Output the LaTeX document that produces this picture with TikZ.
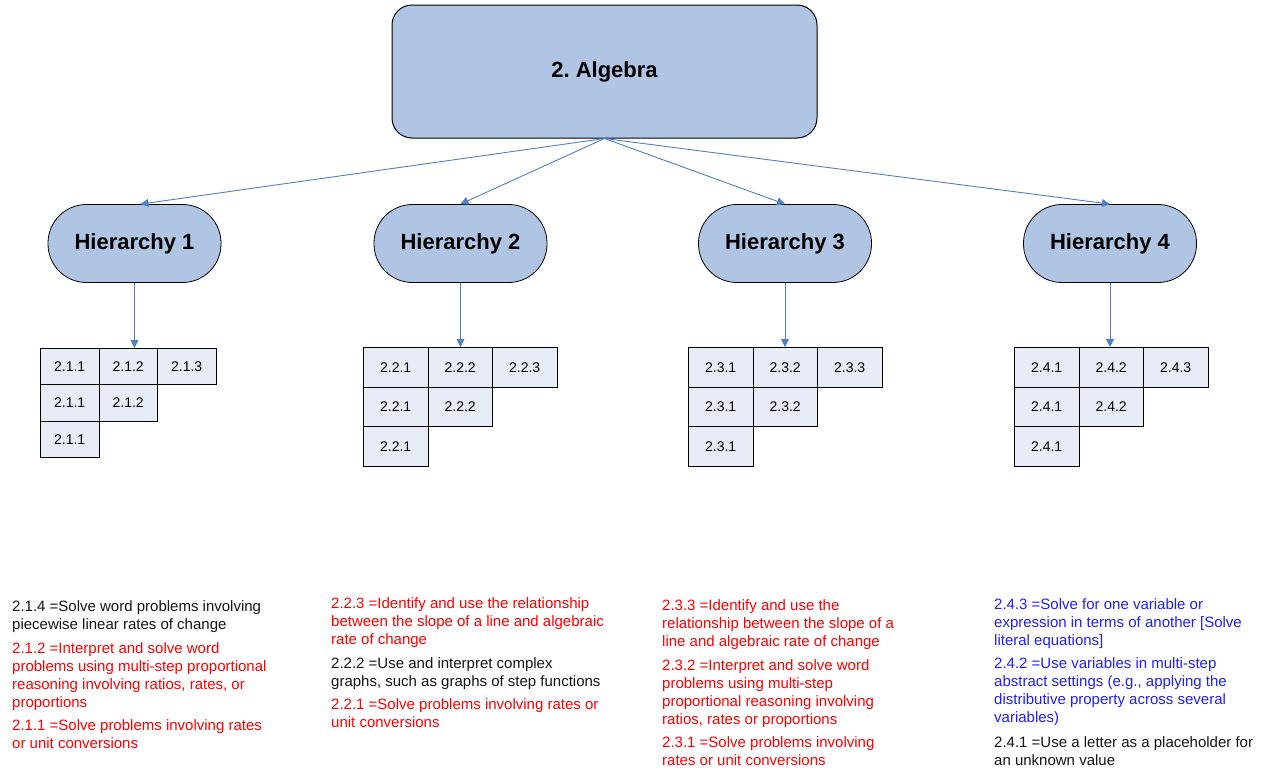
\documentclass[tikz,border=0pt]{standalone}
\usepackage{fontspec}
\setmainfont{Liberation Sans}
\frenchspacing
\usetikzlibrary{arrows.meta}
\definecolor{boxfill}{RGB}{176,196,228}
\definecolor{cellfill}{RGB}{232,236,246}
\definecolor{conncol}{RGB}{79,127,196}
\definecolor{txtred}{RGB}{255,0,0}
\definecolor{txtblue}{RGB}{30,30,255}
\definecolor{txtblack}{RGB}{20,20,20}
\tikzset{
  topbox/.style={draw=black, line width=1pt, fill=boxfill, rounded corners=20pt,
    minimum width=425pt, minimum height=133pt, inner sep=0pt,
    font=\fontsize{22}{26}\selectfont\bfseries},
  hbox/.style={draw=black, line width=0.8pt, fill=boxfill, rounded corners=38.5pt,
    minimum width=173pt, minimum height=78pt, inner sep=0pt,
    font=\fontsize{22}{26}\selectfont\bfseries},
  cell/.style={draw=black, line width=0.8pt, fill=cellfill, inner sep=0pt,
    font=\fontsize{14}{16}\selectfont, anchor=north west},
  conn/.style={draw=conncol, line width=0.9pt, -{Triangle[length=8pt,width=8pt]}},
  para/.style={anchor=north west, inner sep=0pt, align=left,
    font=\fontsize{15}{18}\selectfont}
}
\begin{document}
\begin{tikzpicture}[x=1pt,y=-1pt]
\useasboundingbox (0,0) rectangle (1265,771);
% top
\node[topbox] (top) at (604.5,71.5) {2. Algebra};
% hierarchies
\node[hbox] (h1) at (134.5,243.5) {Hierarchy 1};
\node[hbox] (h2) at (460.5,243.5) {Hierarchy 2};
\node[hbox] (h3) at (785,243.5) {Hierarchy 3};
\node[hbox] (h4) at (1110,243.5) {Hierarchy 4};
% grids
\foreach \g/\x/\y/\w/\h in {1/40/348/58.5/36.3, 2/363/347/64.5/39.7, 3/688/347/64.5/39.7, 4/1014/347/64.5/39.7}{
  \foreach \r/\c in {1/1,1/2,1/3,2/1,2/2,3/1}{
    \node[cell, minimum width=\w pt, minimum height=\h pt] (g\g r\r c\c)
      at ({\x+(\c-1)*\w},{\y+(\r-1)*\h}) {2.\g.\c};
  }
}
% connectors
\draw[conn] (top.south) -- ([xshift=6pt]h1.north);
\draw[conn] (top.south) -- (h2.north);
\draw[conn] (top.south) -- (h3.north);
\draw[conn] (top.south) -- (h4.north);
\foreach \i in {1,2,3,4}{
  \draw[conn] (h\i.south) -- (h\i.south |- g\i r1c2.north);
}
% text block 1
\node[para, text=txtblack] (t1a) at (12,599) {\strut 2.1.4 =Solve word problems involving\\piecewise linear rates of change};
\node[para, text=txtred] (t1b) at (12,641) {\strut 2.1.2 =Interpret and solve word\\problems using multi-step proportional\\reasoning involving ratios, rates, or\\proportions};
\node[para, text=txtred] (t1c) at (12,718) {\strut 2.1.1 =Solve problems involving rates\\or unit conversions};
% text block 2
\node[para, text=txtred] (t2a) at (331,596) {\strut 2.2.3 =Identify and use the relationship\\between the slope of a line and algebraic\\rate of change};
\node[para, text=txtblack] (t2b) at (331,656) {\strut 2.2.2 =Use and interpret complex\\graphs, such as graphs of step functions};
\node[para, text=txtred] (t2c) at (331,697) {\strut 2.2.1 =Solve problems involving rates or\\unit conversions};
% text block 3
\node[para, text=txtred] (t3a) at (662,598) {\strut 2.3.3 =Identify and use the\\relationship between the slope of a\\line and algebraic rate of change};
\node[para, text=txtred] (t3b) at (662,658) {\strut 2.3.2 =Interpret and solve word\\problems using multi-step\\proportional reasoning involving\\ratios, rates or proportions};
\node[para, text=txtred] (t3c) at (662,735) {\strut 2.3.1 =Solve problems involving\\rates or unit conversions};
% text block 4
\node[para, text=txtblue] (t4a) at (994,597) {\strut 2.4.3 =Solve for one variable or\\expression in terms of another [Solve\\literal equations]};
\node[para, text=txtblue] (t4b) at (994,656) {\strut 2.4.2 =Use variables in multi-step\\abstract settings (e.g., applying the\\distributive property across several\\variables)};
\node[para, text=txtblack] (t4c) at (994,735) {\strut 2.4.1 =Use a letter as a placeholder for\\an unknown value};
\end{tikzpicture}
\end{document}
